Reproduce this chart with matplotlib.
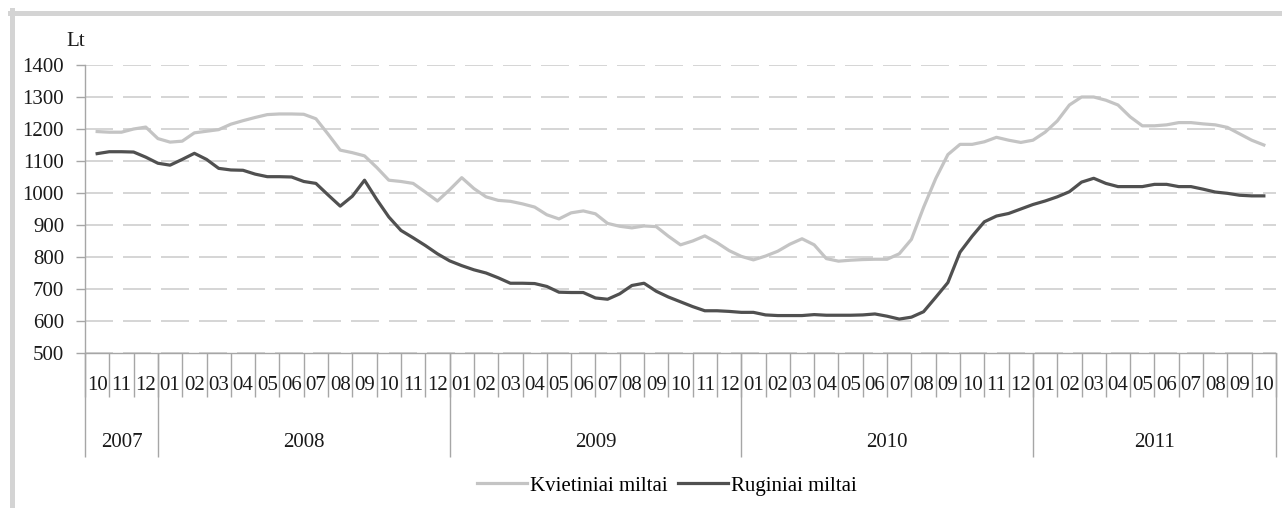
import numpy as np
import matplotlib.pyplot as plt
from matplotlib.lines import Line2D

plt.rcParams['font.family'] = ['Liberation Serif', 'DejaVu Serif']
plt.rcParams['lines.scale_dashes'] = False

# ---------------------------------------------------------------------
# Data: semi-monthly readings, 2007-10 .. 2011-10 (Lt per tonne)
# ---------------------------------------------------------------------
kvietiniai = [
    1192, 1190, 1190, 1200, 1206, 1170, 1159, 1162, 1188, 1193,
    1198, 1215, 1226, 1236, 1245, 1247, 1247, 1246, 1232, 1184,
    1134, 1126, 1116, 1080, 1040, 1036, 1030, 1003, 975, 1010,
    1048, 1014, 988, 977, 974, 966, 956, 932, 919, 938,
    944, 935, 905, 896, 891, 897, 895, 865, 838, 850,
    866, 845, 820, 802, 791, 803, 818, 840, 857, 838,
    795, 787, 790, 792, 793, 793, 810, 855, 955, 1045,
    1120, 1152, 1152, 1160, 1174, 1165, 1158, 1165, 1190, 1225,
    1275, 1300, 1300, 1290, 1275, 1238, 1210, 1210, 1213, 1220,
    1220, 1216, 1213, 1205, 1185, 1165, 1150,
]
ruginiai = [
    1123, 1129, 1129, 1128, 1112, 1093, 1087, 1105, 1124, 1105,
    1077, 1072, 1071, 1059, 1051, 1051, 1050, 1036, 1030, 994,
    959, 990, 1040, 980, 925, 883, 860, 836, 810, 788,
    773, 760, 750, 735, 718, 718, 717, 708, 690, 689,
    689, 672, 668, 685, 711, 718, 693, 675, 660, 645,
    632, 632, 630, 627, 627, 619, 617, 617, 617, 620,
    618, 618, 618, 619, 622, 615, 606, 612, 629, 674,
    720, 815, 865, 910, 928, 936, 950, 964, 975, 988,
    1004, 1034, 1046, 1030, 1020, 1020, 1020, 1027, 1027, 1020,
    1020, 1012, 1003, 999, 993, 991, 991,
]

months = ["10", "11", "12"] + [f"{m:02d}" for m in range(1, 13)] * 3 + [f"{m:02d}" for m in range(1, 11)]
years = ["2007", "2008", "2009", "2010", "2011"]
year_bounds = [0, 3, 15, 27, 39, 49]

# positions: month i spans [i, i+1]; two readings per month
x = 0.5 + 0.5 * np.arange(len(kvietiniai))

# ---------------------------------------------------------------------
# Figure
# ---------------------------------------------------------------------
W, H = 1282, 508
fig = plt.figure(figsize=(W / 100, H / 100), dpi=100)
ax = fig.add_axes([85 / W, 1 - 353 / H, (1276 - 85) / W, (353 - 65) / H])

axis_col = "#a6a6a6"
px = 0.72  # points per pixel

ax.plot(x, kvietiniai, color="#c4c4c4", lw=2.3, label="Kvietiniai miltai", zorder=3)
ax.plot(x, ruginiai, color="#505050", lw=2.3, label="Ruginiai miltai", zorder=4)

ax.set_xlim(0, len(months))
ax.set_ylim(500, 1400)
ax.set_yticks(np.arange(500, 1401, 100))
ax.yaxis.grid(True, color="#d2d2d2", lw=1.3, linestyle=(0, (28 * px, 10 * px)))
ax.set_axisbelow(True)

for s in ["top", "right"]:
    ax.spines[s].set_visible(False)
for s in ["left", "bottom"]:
    ax.spines[s].set_color(axis_col)
    ax.spines[s].set_linewidth(1.0)

ax.tick_params(axis="y", length=9 * px, width=1.0, color=axis_col, pad=12 * px,
               labelsize=15, labelcolor="#1a1a1a")

# month level
ax.set_xticks(np.arange(0, len(months) + 1))
ax.set_xticklabels([])
ax.set_xticks(np.arange(len(months)) + 0.5, minor=True)
ax.set_xticklabels(months, minor=True)
ax.tick_params(axis="x", which="major", length=44 * px, width=1.0, color=axis_col)
ax.tick_params(axis="x", which="minor", length=0, pad=23 * px, labelsize=15,
               labelcolor="#1a1a1a")

# year level
sec = ax.secondary_xaxis("bottom")
sec.spines["bottom"].set_visible(False)
sec.set_xticks(year_bounds)
sec.set_xticklabels([""] * len(year_bounds))
sec.set_xticks([(a + b) / 2 for a, b in zip(year_bounds[:-1], year_bounds[1:])],
               labels=years, minor=True)
sec.tick_params(axis="x", which="major", length=104 * px, width=1.0, color=axis_col)
sec.tick_params(axis="x", which="minor", length=0, pad=80 * px, labelsize=15,
                labelcolor="#1a1a1a")

fig.text(76 / W, 1 - 41 / H, "Lt", ha="center", va="center", fontsize=15, color="#1a1a1a")

fig.legend(loc="center", bbox_to_anchor=(667 / W, 1 - 486 / H), ncol=2, frameon=False,
           fontsize=15, handlelength=2.4, handletextpad=0.15, columnspacing=0.5)

# outer light frame (top and left edges visible)
fig.add_artist(Line2D([10 / W, 1], [1 - 12.5 / H] * 2, transform=fig.transFigure,
                      color="#d4d4d4", lw=5 * px))
fig.add_artist(Line2D([11.7 / W] * 2, [0, 1 - 10 / H], transform=fig.transFigure,
                      color="#d4d4d4", lw=5 * px))

fig.savefig("out.png", dpi=100)
